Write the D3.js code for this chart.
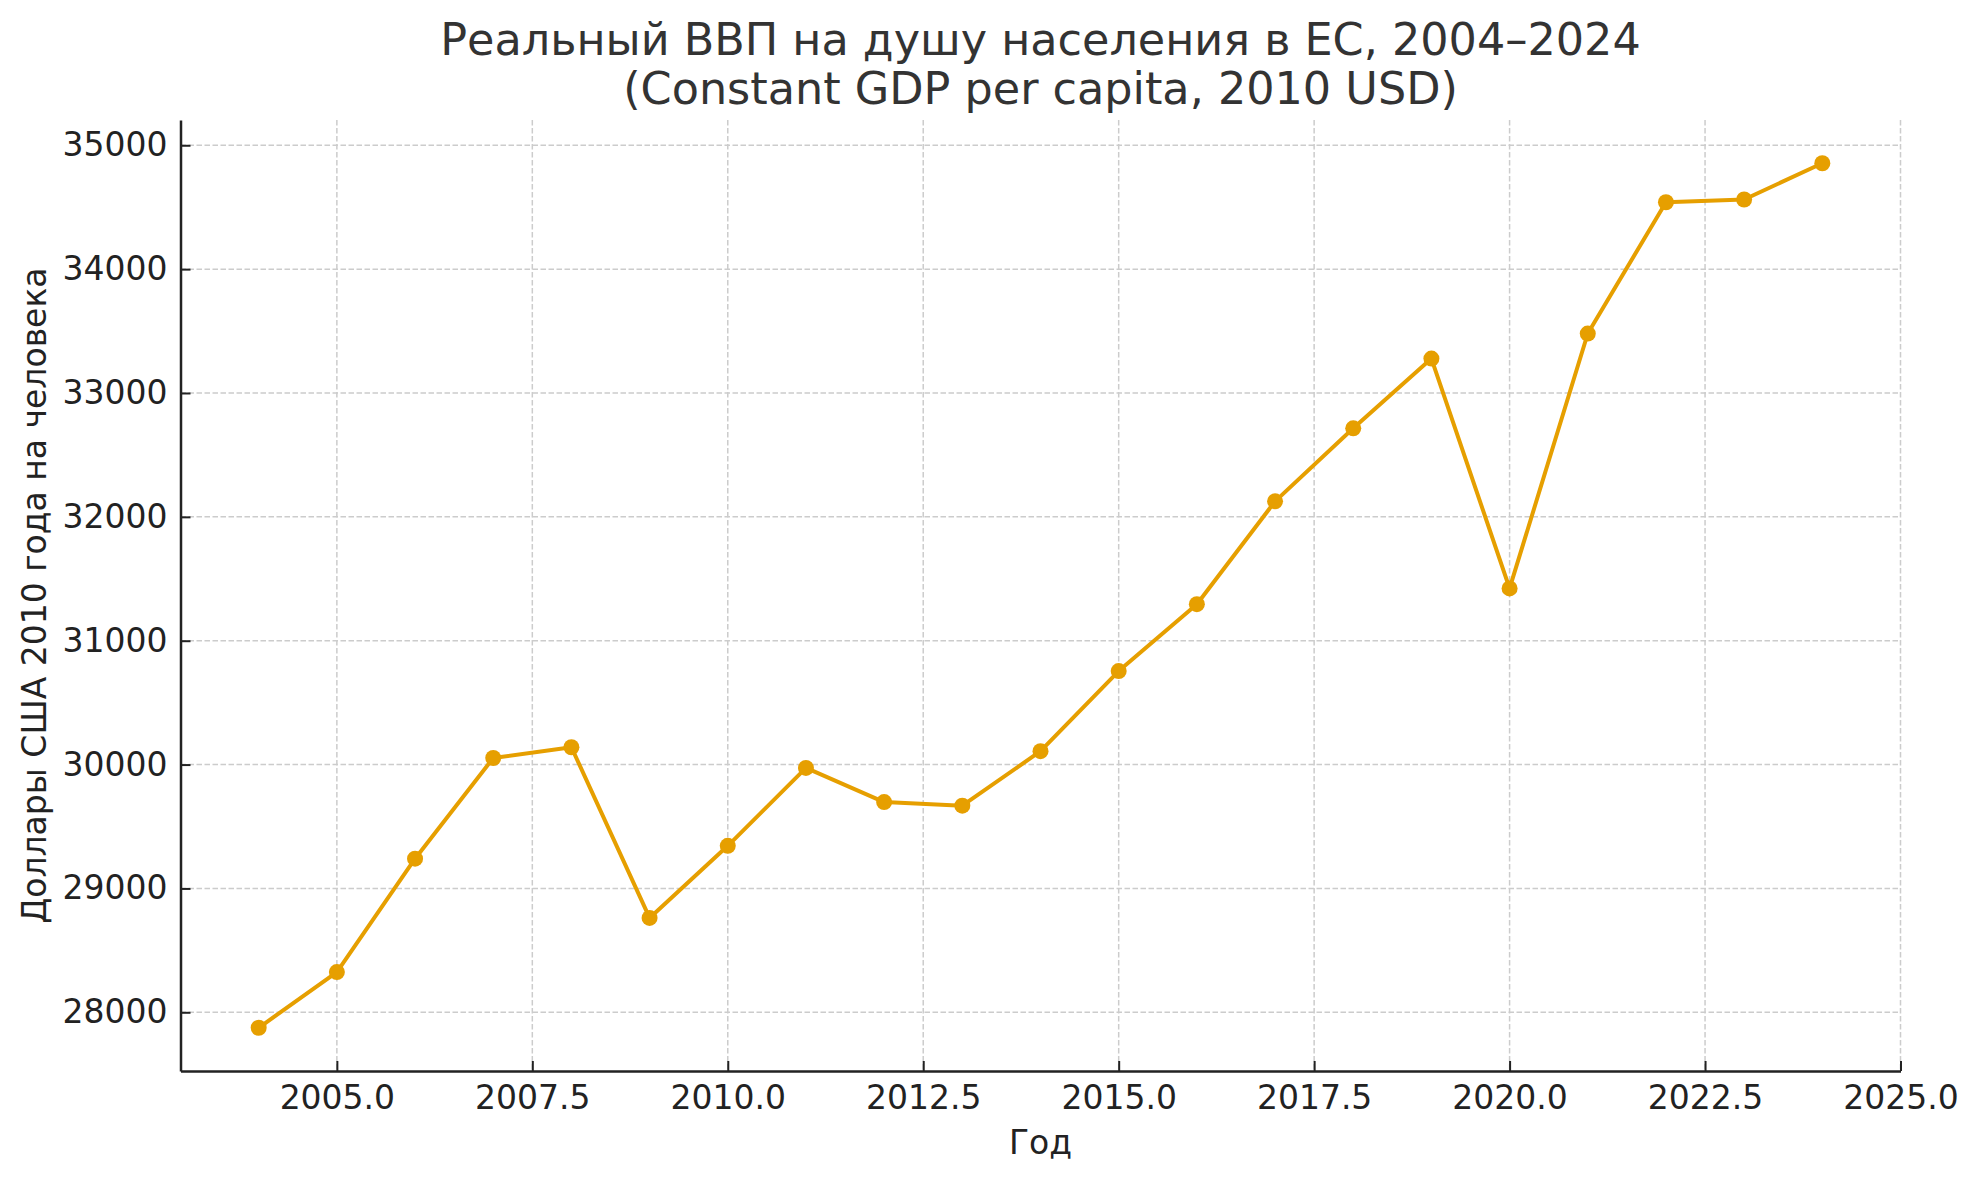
<!DOCTYPE html>
<html>
<head>
<meta charset="utf-8">
<script src="https://cdn.jsdelivr.net/npm/d3@7"></script>
<style>
  body { margin: 0; background: #fff; }
  svg { display: block; font-family: "DejaVu Sans", sans-serif; }
</style>
</head>
<body>
<div id="chart"></div>
<script>
// data
const years = [2004, 2005, 2006, 2007, 2008, 2009, 2010, 2011, 2012, 2013, 2014,
               2015, 2016, 2017, 2018, 2019, 2020, 2021, 2022, 2023, 2024];
const gdpValues = [27875, 28325, 29240, 30053, 30140, 28762, 29344, 29973, 29697, 29668, 30108,
                   30755, 31295, 32125, 32715, 33278, 31422, 33480, 34540, 34562, 34855];
const xTicks = [2005, 2007.5, 2010, 2012.5, 2015, 2017.5, 2020, 2022.5, 2025];
const yTicks = [28000, 29000, 30000, 31000, 32000, 33000, 34000, 35000];
const titleLines = ["Реальный ВВП на душу населения в ЕС, 2004–2024", "(Constant GDP per capita, 2010 USD)"];
const xLabel = "Год";
const yLabel = "Доллары США 2010 года на человека";

const W = 1980, H = 1179;
const margin = {top: 120, right: 79.5, bottom: 108, left: 180.5};
const width = W - margin.left - margin.right,
      height = H - margin.top - margin.bottom;

const svg = d3.select("#chart").append("svg")
    .attr("width", W)
    .attr("height", H);

const g = svg.append("g")
    .attr("transform", "translate(" + margin.left + "," + margin.top + ")");

// matplotlib-like 5% padding around the data
const xPad = (d3.max(years) - d3.min(years)) * 0.05;
const yPad = (d3.max(gdpValues) - d3.min(gdpValues)) * 0.05;

const x = d3.scaleLinear()
    .domain([d3.min(years) - xPad, d3.max(years) + xPad])
    .range([0, width]);
const y = d3.scaleLinear()
    .domain([d3.min(gdpValues) - yPad, d3.max(gdpValues) + yPad])
    .range([height, 0]);

// grid
g.append("g")
    .selectAll("line")
    .data(xTicks)
    .enter()
    .append("line")
    .attr("x1", d => x(d)).attr("x2", d => x(d))
    .attr("y1", 0).attr("y2", height)
    .attr("stroke", "#cccccc")
    .attr("stroke-width", 1.5)
    .attr("stroke-dasharray", "5.5,2.5");

g.append("g")
    .selectAll("line")
    .data(yTicks)
    .enter()
    .append("line")
    .attr("x1", 0).attr("x2", width)
    .attr("y1", d => y(d)).attr("y2", d => y(d))
    .attr("stroke", "#cccccc")
    .attr("stroke-width", 1.5)
    .attr("stroke-dasharray", "5.5,2.5");

// axes, ticks pointing inward
const xAxis = d3.axisBottom(x)
    .tickValues(xTicks)
    .tickFormat(d3.format(".1f"))
    .tickSizeInner(-10)
    .tickSizeOuter(0)
    .tickPadding(15);

const yAxis = d3.axisLeft(y)
    .tickValues(yTicks)
    .tickFormat(d3.format("d"))
    .tickSizeInner(-10)
    .tickSizeOuter(0)
    .tickPadding(13);

const gx = g.append("g")
    .attr("transform", "translate(0," + height + ")")
    .call(xAxis);
const gy = g.append("g").call(yAxis);

[gx, gy].forEach(ax => {
    ax.select(".domain").attr("stroke", "#222").attr("stroke-width", 2.5);
    ax.selectAll(".tick line").attr("stroke", "#222").attr("stroke-width", 2);
    ax.selectAll(".tick text")
        .attr("fill", "#222")
        .style("font-size", "33px")
        .style("font-family", "DejaVu Sans");
});

// line + markers
const line = d3.line()
    .x((d, i) => x(years[i]))
    .y(d => y(d));

g.append("path")
    .datum(gdpValues)
    .attr("fill", "none")
    .attr("stroke", "#E69F00")
    .attr("stroke-width", 4)
    .attr("stroke-linejoin", "round")
    .attr("d", line);

g.selectAll(".dot")
    .data(gdpValues)
    .enter()
    .append("circle")
    .attr("class", "dot")
    .attr("cx", (d, i) => x(years[i]))
    .attr("cy", d => y(d))
    .attr("r", 8)
    .attr("fill", "#E69F00");

// title
svg.append("text")
    .attr("text-anchor", "middle")
    .attr("x", margin.left + width / 2)
    .attr("y", 55)
    .attr("fill", "#333")
    .style("font-size", "44.5px")
    .text(titleLines[0]);
svg.append("text")
    .attr("text-anchor", "middle")
    .attr("x", margin.left + width / 2)
    .attr("y", 104)
    .attr("fill", "#333")
    .style("font-size", "44.5px")
    .text(titleLines[1]);

// axis labels
svg.append("text")
    .attr("text-anchor", "middle")
    .attr("x", margin.left + width / 2)
    .attr("y", 1154)
    .attr("fill", "#222")
    .style("font-size", "33px")
    .text(xLabel);

svg.append("text")
    .attr("text-anchor", "middle")
    .attr("transform", "translate(46," + (margin.top + height / 2) + ") rotate(-90)")
    .attr("fill", "#222")
    .style("font-size", "33px")
    .text(yLabel);
</script>
</body>
</html>
